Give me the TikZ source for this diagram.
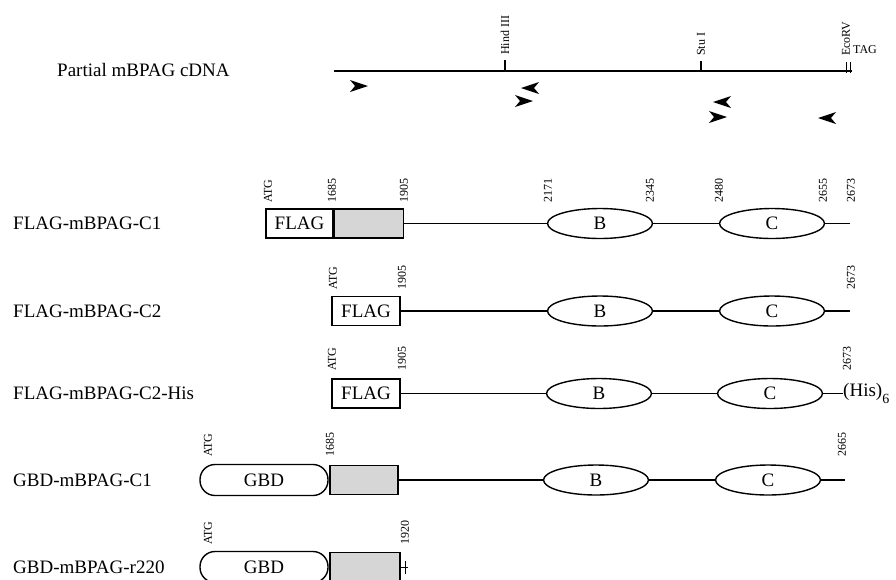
\documentclass[tikz,border=0pt]{standalone}
\usepackage{fontspec}
\setmainfont{Liberation Serif}
\usetikzlibrary{shapes.geometric}
\tikzset{
  rowlabel/.style={anchor=west, inner sep=0, font=\fontsize{19}{19}\selectfont},
  sitelabel/.style={rotate=90, anchor=west, inner sep=0, font=\fontsize{12}{12}\selectfont},
  poslabel/.style={rotate=90, anchor=west, inner sep=0, font=\fontsize{12}{12}\selectfont},
  strand/.style={line width=1.5pt},
  flagbox/.style={draw, line width=1.4pt, minimum width=67pt, minimum height=29pt, inner sep=0,
    font=\fontsize{19}{19}\selectfont},
  greybox/.style={draw, line width=1.4pt, fill=gray!32, minimum width=69pt, minimum height=29pt, inner sep=0},
  gbdbox/.style={draw, line width=1.4pt, rounded corners=15pt, minimum width=128pt, minimum height=31pt,
    inner sep=0, font=\fontsize{19}{19}\selectfont},
  domainoval/.style={draw, line width=1.4pt, ellipse, minimum width=105pt, minimum height=30pt, inner sep=0,
    font=\fontsize{19}{19}\selectfont},
  primer/.style={fill=black}
}
\newcommand\primerfwd[1]{\fill[primer, shift={#1}] (9,0) -- (-9,-6) -- (-4,0) -- (-9,6) -- cycle;}
\newcommand\primerrev[1]{\fill[primer, shift={#1}] (-9,0) -- (9,-6) -- (4,0) -- (9,6) -- cycle;}
\begin{document}
\begin{tikzpicture}[x=1pt, y=-1pt]
\useasboundingbox (0,0) rectangle (896,579);

% ---- partial cDNA with restriction sites and primers ----
\node[rowlabel] (cdnalbl) at (57,70) {Partial mBPAG cDNA};
\coordinate (cs) at (334,71);
\coordinate (ce) at (852,71);
\draw[strand] (cs) -- (ce);
\coordinate (hind) at (505,71);
\coordinate (stu) at (701,71);
\draw[strand] (hind) -- ++(0,-11);
\draw[strand] (stu) -- ++(0,-10);
\draw[line width=1pt] (846,73) -- (846,62) (850,73) -- (850,62);
\node[sitelabel] (hindlbl) at (505,55) {Hind III};
\node[sitelabel] (stulbl) at (701,56) {Stu I};
\node[sitelabel] (ecolbl) at (846,56) {EcoRV};
\node[anchor=west, inner sep=0, font=\fontsize{12}{12}\selectfont] (taglbl) at (853,50) {TAG};
\primerfwd{(359,86)}
\primerrev{(530,88)}
\primerfwd{(524,101)}
\primerrev{(722,102)}
\primerfwd{(718,117)}
\primerrev{(827,118)}

% ---- FLAG-mBPAG-C1 ----
\node[rowlabel] (l1) at (13,223.5) {FLAG-mBPAG-C1};
\node[flagbox] (f1) at (299.5,223.5) {FLAG};
\node[greybox, anchor=west] (g1) at (f1.east) {};
\node[domainoval] (b1) at (600,223.5) {B};
\node[domainoval] (c1) at (772,223.5) {C};
\coordinate (e1) at (850,223.5);
\draw[strand] (g1.east) -- (b1.west) (b1.east) -- (c1.west) (c1.east) -- (e1);
\foreach \x/\t in {268/ATG,332/1685,404/1905,548/2171,650/2345,719/2480,823/2655,851/2673}
  \node[poslabel] at (\x,203) {\t};

% ---- FLAG-mBPAG-C2 ----
\node[rowlabel] (l2) at (13,311) {FLAG-mBPAG-C2};
\node[flagbox, minimum width=68pt] (f2) at (366,311) {FLAG};
\node[domainoval] (b2) at (600,311) {B};
\node[domainoval] (c2) at (772,311) {C};
\coordinate (e2) at (850,311);
\draw[strand] (f2.east) -- (b2.west) (b2.east) -- (c2.west) (c2.east) -- (e2);
\foreach \x/\t in {333/ATG,402/1905,851/2673}
  \node[poslabel] at (\x,290) {\t};

% ---- FLAG-mBPAG-C2-His ----
\node[rowlabel] (l3) at (13,393.5) {FLAG-mBPAG-C2-His};
\node[flagbox, minimum width=68pt] (f3) at (366,393.5) {FLAG};
\node[domainoval] (b3) at (599,393.5) {B};
\node[domainoval] (c3) at (770,393.5) {C};
\node[anchor=west, inner sep=0, font=\fontsize{19}{19}\selectfont] (his) at (843,393.5)
  {(His)\raisebox{-0.35em}{\fontsize{14}{14}\selectfont 6}};
\draw[strand] (f3.east) -- (b3.west) (b3.east) -- (c3.west) (c3.east) -- (his.west);
\foreach \x/\t in {332/ATG,402/1905,847/2673}
  \node[poslabel] at (\x,371) {\t};

% ---- GBD-mBPAG-C1 ----
\node[rowlabel] (l4) at (13,480) {GBD-mBPAG-C1};
\node[gbdbox] (d4) at (264,480) {GBD};
\node[greybox, minimum width=68pt] (g4) at (364,480) {};
\node[domainoval] (b4) at (596,480) {B};
\node[domainoval] (c4) at (768,480) {C};
\coordinate (e4) at (845,480);
\draw[strand] (g4.east) -- (b4.west) (b4.east) -- (c4.west) (c4.east) -- (e4);
\foreach \x/\t in {208/ATG,330/1685,842/2665}
  \node[poslabel] at (\x,457) {\t};

% ---- GBD-mBPAG-r220 ----
\node[rowlabel] (l5) at (13,567) {GBD-mBPAG-r220};
\node[gbdbox] (d5) at (264,567) {GBD};
\node[greybox, minimum width=70pt] (g5) at (365,567) {};
\coordinate (e5) at (408,567);
\draw[line width=1pt] (g5.east) -- (e5) (405,561) -- (405,574);
\foreach \x/\t in {208/ATG,405/1920}
  \node[poslabel] at (\x,545) {\t};
\end{tikzpicture}
\end{document}
